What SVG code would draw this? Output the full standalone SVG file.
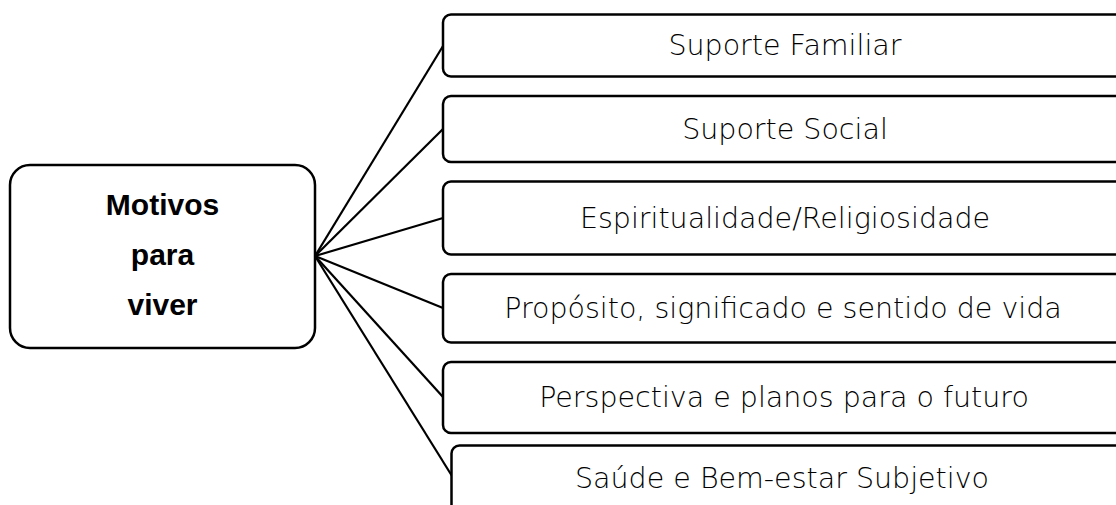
<svg xmlns="http://www.w3.org/2000/svg" width="1116" height="505" viewBox="0 0 1116 505">
<style>
.box{fill:#fff;stroke:#000;stroke-width:2.5}
.lbl{font-family:"DejaVu Sans","Liberation Sans",sans-serif;font-weight:300;font-size:28.5px;fill:#000;text-anchor:middle}
.main{font-family:"Liberation Sans",Arial,sans-serif;font-weight:bold;font-size:30px;fill:#000;text-anchor:middle}
.con{stroke:#000;stroke-width:2.2;fill:none}
</style>
<rect width="1116" height="505" fill="#fff"/>
<g id="connectors">
<line class="con" x1="315" y1="256" x2="443" y2="46"/>
<line class="con" x1="315" y1="256" x2="443" y2="129"/>
<line class="con" x1="315" y1="256" x2="443" y2="218"/>
<line class="con" x1="315" y1="256" x2="443" y2="308"/>
<line class="con" x1="315" y1="256" x2="443" y2="397"/>
<line class="con" x1="315" y1="256" x2="452" y2="476"/>
</g>
<g id="main">
<rect class="box" x="10" y="165" width="305" height="183" rx="20"/>
<text class="main" x="162.5" y="215">Motivos</text>
<text class="main" x="162.5" y="265">para</text>
<text class="main" x="162.5" y="315">viver</text>
</g>
<g id="n1">
<rect class="box" x="443" y="14.5" width="690" height="62" rx="8"/>
<text class="lbl" x="785" y="55">Suporte Familiar</text>
</g>
<g id="n2">
<rect class="box" x="443" y="96" width="690" height="66" rx="8"/>
<text class="lbl" x="785" y="139">Suporte Social</text>
</g>
<g id="n3">
<rect class="box" x="443" y="181.5" width="690" height="73" rx="8"/>
<text class="lbl" x="785" y="228">Espiritualidade/Religiosidade</text>
</g>
<g id="n4">
<rect class="box" x="443" y="274" width="690" height="68.5" rx="8"/>
<text class="lbl" x="783" y="318">Propósito, significado e sentido de vida</text>
</g>
<g id="n5">
<rect class="box" x="443" y="362" width="690" height="71" rx="8"/>
<text class="lbl" x="784" y="407">Perspectiva e planos para o futuro</text>
</g>
<g id="n6">
<rect class="box" x="451.5" y="445.5" width="690" height="80" rx="8"/>
<text class="lbl" x="782" y="488">Saúde e Bem-estar Subjetivo</text>
</g>
</svg>
